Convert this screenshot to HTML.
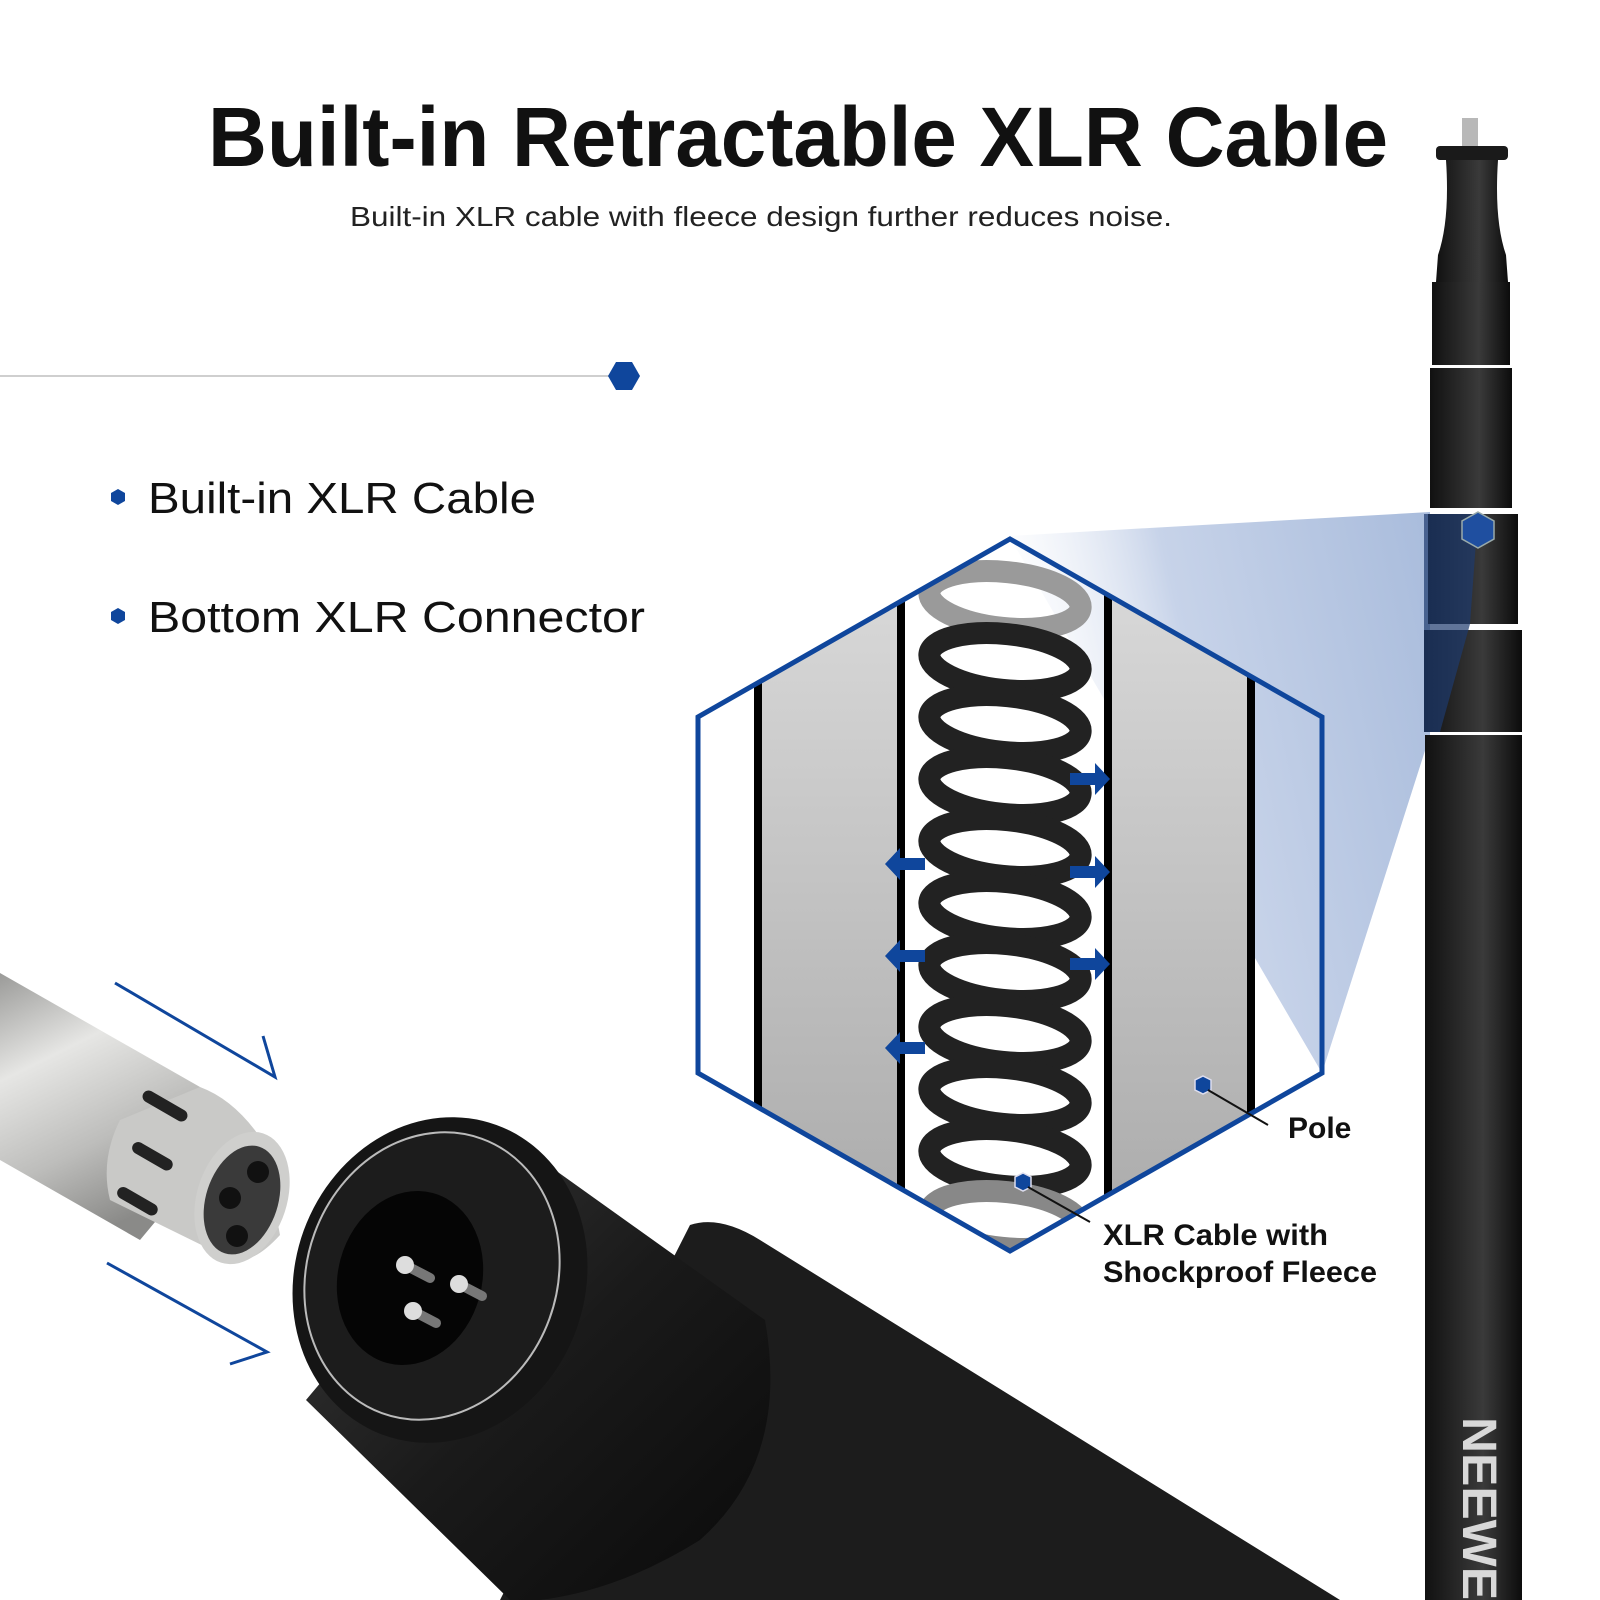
<!DOCTYPE html>
<html><head><meta charset="utf-8"><style>
html,body{margin:0;padding:0;background:#fff;width:1600px;height:1600px;overflow:hidden}
svg{display:block}
</style></head><body>
<svg width="1600" height="1600" viewBox="0 0 1600 1600" xmlns="http://www.w3.org/2000/svg">
<defs>
<linearGradient id="beam" x1="1" y1="0" x2="0" y2="0.3">
<stop offset="0" stop-color="#a9bcdc"/><stop offset="0.6" stop-color="#c7d3e9"/><stop offset="1" stop-color="#ffffff" stop-opacity="0.2"/>
</linearGradient>
<linearGradient id="gray" x1="0" y1="0" x2="0" y2="1">
<stop offset="0" stop-color="#dcdcdc"/><stop offset="1" stop-color="#a9a9a9"/>
</linearGradient>
<linearGradient id="silver" x1="0" y1="0" x2="0.4" y2="1">
<stop offset="0" stop-color="#9a9a98"/><stop offset="0.35" stop-color="#e6e6e4"/><stop offset="0.7" stop-color="#bdbdbb"/><stop offset="1" stop-color="#8a8a88"/>
</linearGradient>
<linearGradient id="poleg" x1="0" y1="0" x2="1" y2="0">
<stop offset="0" stop-color="#111"/><stop offset="0.4" stop-color="#2c2c2c"/><stop offset="0.6" stop-color="#3a3a3a"/><stop offset="1" stop-color="#0c0c0c"/>
</linearGradient>
<linearGradient id="body" x1="0" y1="0" x2="1" y2="1">
<stop offset="0" stop-color="#3a3a3a"/><stop offset="0.5" stop-color="#1a1a1a"/><stop offset="1" stop-color="#0a0a0a"/>
</linearGradient>
<clipPath id="hexclip"><polygon points="1010,539 1322,717 1322,1073 1010,1251 698,1073 698,717"/></clipPath>
</defs>

<text x="208" y="166" font-family="Liberation Sans, sans-serif" font-weight="bold" font-size="84" fill="#111" textLength="1180" lengthAdjust="spacingAndGlyphs">Built-in Retractable XLR Cable</text>
<text x="350" y="226" font-family="Liberation Sans, sans-serif" font-size="28" fill="#222" textLength="822" lengthAdjust="spacingAndGlyphs">Built-in XLR cable with fleece design further reduces noise.</text>

<line x1="0" y1="376" x2="612" y2="376" stroke="#cfcfcf" stroke-width="2"/>
<polygon points="616,362 632,362 640,376 632,390 616,390 608,376" fill="#0f469c"/>

<polygon points="118,489 125,493 125,501 118,505 111,501 111,493" fill="#0f469c"/>
<text x="148" y="513" font-family="Liberation Sans, sans-serif" font-size="44" fill="#111" textLength="388" lengthAdjust="spacingAndGlyphs">Built-in XLR Cable</text>
<polygon points="118,608 125,612 125,620 118,624 111,620 111,612" fill="#0f469c"/>
<text x="148" y="632" font-family="Liberation Sans, sans-serif" font-size="44" fill="#111" textLength="497" lengthAdjust="spacingAndGlyphs">Bottom XLR Connector</text>

<polygon points="1009,536 1430,512 1430,735 1322,1073" fill="url(#beam)"/>

<g clip-path="url(#hexclip)">
<rect x="758" y="530" width="143" height="730" fill="url(#gray)"/>
<rect x="1108" y="530" width="143" height="730" fill="url(#gray)"/>
<rect x="754" y="530" width="8" height="730" fill="#000"/>
<rect x="897" y="530" width="8" height="730" fill="#000"/>
<rect x="1104" y="530" width="8" height="730" fill="#000"/>
<rect x="1247" y="530" width="8" height="730" fill="#000"/>
<g fill="none">
<ellipse cx="1005" cy="600" rx="76" ry="28" stroke="#9a9a9a" stroke-width="22" transform="rotate(6 1005 600)"/>
<ellipse cx="1005" cy="662" rx="76" ry="28" stroke="#222" stroke-width="22" transform="rotate(6 1005 662)"/>
<ellipse cx="1005" cy="724" rx="76" ry="28" stroke="#222" stroke-width="22" transform="rotate(6 1005 724)"/>
<ellipse cx="1005" cy="786" rx="76" ry="28" stroke="#222" stroke-width="22" transform="rotate(6 1005 786)"/>
<ellipse cx="1005" cy="848" rx="76" ry="28" stroke="#222" stroke-width="22" transform="rotate(6 1005 848)"/>
<ellipse cx="1005" cy="910" rx="76" ry="28" stroke="#222" stroke-width="22" transform="rotate(6 1005 910)"/>
<ellipse cx="1005" cy="972" rx="76" ry="28" stroke="#222" stroke-width="22" transform="rotate(6 1005 972)"/>
<ellipse cx="1005" cy="1034" rx="76" ry="28" stroke="#222" stroke-width="22" transform="rotate(6 1005 1034)"/>
<ellipse cx="1005" cy="1096" rx="76" ry="28" stroke="#222" stroke-width="22" transform="rotate(6 1005 1096)"/>
<ellipse cx="1005" cy="1158" rx="76" ry="28" stroke="#222" stroke-width="22" transform="rotate(6 1005 1158)"/>
<ellipse cx="1005" cy="1220" rx="76" ry="28" stroke="#888" stroke-width="22" transform="rotate(6 1005 1220)"/>
</g>
<g fill="#0f469c">
<polygon points="1070,773 1095,773 1095,763 1110,779 1095,795 1095,785 1070,785"/>
<polygon points="1070,866 1095,866 1095,856 1110,872 1095,888 1095,878 1070,878"/>
<polygon points="1070,958 1095,958 1095,948 1110,964 1095,980 1095,970 1070,970"/>
<polygon points="925,858 900,858 900,848 885,864 900,880 900,870 925,870"/>
<polygon points="925,950 900,950 900,940 885,956 900,972 900,962 925,962"/>
<polygon points="925,1042 900,1042 900,1032 885,1048 900,1064 900,1054 925,1054"/>
</g>
</g>
<polygon points="1010,539 1322,717 1322,1073 1010,1251 698,1073 698,717" fill="none" stroke="#0f469c" stroke-width="5"/>

<polygon points="1203,1076 1211,1080 1211,1090 1203,1094 1195,1090 1195,1080" fill="#0f469c" stroke="#dde" stroke-width="1.5"/>
<line x1="1208" y1="1090" x2="1268" y2="1125" stroke="#111" stroke-width="2"/>
<polygon points="1023,1173 1031,1177 1031,1187 1023,1191 1015,1187 1015,1177" fill="#0f469c" stroke="#dde" stroke-width="1.5"/>
<line x1="1028" y1="1187" x2="1090" y2="1222" stroke="#111" stroke-width="2"/>
<text x="1288" y="1138" font-family="Liberation Sans, sans-serif" font-weight="bold" font-size="30" fill="#111">Pole</text>
<text x="1103" y="1245" font-family="Liberation Sans, sans-serif" font-weight="bold" font-size="30" fill="#111" textLength="225" lengthAdjust="spacingAndGlyphs">XLR Cable with</text>
<text x="1103" y="1282" font-family="Liberation Sans, sans-serif" font-weight="bold" font-size="30" fill="#111" textLength="274" lengthAdjust="spacingAndGlyphs">Shockproof Fleece</text>

<rect x="1462" y="118" width="16" height="30" fill="#b8b8b8"/>
<rect x="1436" y="146" width="72" height="14" rx="4" fill="#1a1a1a"/>
<path d="M1446,160 L1498,160 Q1494,220 1506,255 L1508,282 L1436,282 L1438,255 Q1450,220 1446,160 Z" fill="url(#poleg)"/>
<rect x="1432" y="282" width="78" height="83" fill="url(#poleg)"/>
<rect x="1430" y="368" width="82" height="140" fill="url(#poleg)"/>
<rect x="1428" y="514" width="90" height="110" fill="url(#poleg)"/>
<rect x="1424" y="630" width="98" height="102" fill="url(#poleg)"/>
<rect x="1425" y="735" width="97" height="865" fill="url(#poleg)"/>
<polygon points="1428,514 1478,514 1470,624 1440,732 1424,732 1424,514" fill="#1e3a6e" opacity="0.7"/>
<polygon points="1478,512 1494,521 1494,539 1478,548 1462,539 1462,521" fill="#1f4fa0" stroke="#9aa" stroke-width="1.5"/>
<text transform="translate(1463,1417) rotate(90)" font-family="Liberation Sans, sans-serif" font-weight="bold" font-size="48" fill="#d8d8d8" textLength="183" lengthAdjust="spacingAndGlyphs">NEEWE</text>

<path d="M0,973 L200,1087 L215,1150 L140,1240 L0,1160 Z" fill="url(#silver)"/>
<path d="M200,1087 Q235,1100 262,1140 L280,1235 Q250,1268 228,1258 L110,1200 Q100,1160 120,1120 Z" fill="#c9c9c7"/>
<rect x="140" y="1100" width="50" height="12" rx="6" fill="#222" transform="rotate(30 165 1106)"/>
<rect x="130" y="1150" width="45" height="12" rx="6" fill="#222" transform="rotate(30 152 1156)"/>
<rect x="115" y="1195" width="45" height="12" rx="6" fill="#222" transform="rotate(30 137 1201)"/>
<ellipse cx="242" cy="1198" rx="45" ry="68" fill="#cfcfcd" transform="rotate(18 242 1198)"/>
<ellipse cx="242" cy="1200" rx="36" ry="56" fill="#3a3a3a" transform="rotate(18 242 1200)"/>
<circle cx="258" cy="1172" r="11" fill="#111"/>
<circle cx="230" cy="1198" r="11" fill="#111"/>
<circle cx="237" cy="1236" r="11" fill="#111"/>

<polyline points="115,983 275,1077 263,1036" fill="none" stroke="#0f469c" stroke-width="3"/>
<polyline points="107,1263 267,1352 230,1364" fill="none" stroke="#0f469c" stroke-width="3"/>

<path d="M690,1225 Q720,1215 760,1240 L1340,1600 L500,1600 Z" fill="#1c1c1c"/>
<path d="M520,1145 L765,1320 Q790,1460 700,1540 Q620,1590 540,1600 L510,1600 L306,1400 Z" fill="url(#body)"/>
<ellipse cx="440" cy="1280" rx="145" ry="165" fill="#151515" transform="rotate(20 440 1280)"/>
<ellipse cx="432" cy="1276" rx="125" ry="146" fill="#1c1c1c" stroke="#bbb" stroke-width="2" transform="rotate(20 432 1276)"/>
<ellipse cx="410" cy="1278" rx="72" ry="88" fill="#050505" transform="rotate(15 410 1278)"/>
<g stroke="#777" stroke-width="10" stroke-linecap="round">
<line x1="405" y1="1265" x2="430" y2="1278"/>
<line x1="459" y1="1284" x2="482" y2="1296"/>
<line x1="413" y1="1311" x2="436" y2="1323"/>
</g>
<circle cx="405" cy="1265" r="9" fill="#ddd"/>
<circle cx="459" cy="1284" r="9" fill="#ddd"/>
<circle cx="413" cy="1311" r="9" fill="#ddd"/>
</svg>
</body></html>
